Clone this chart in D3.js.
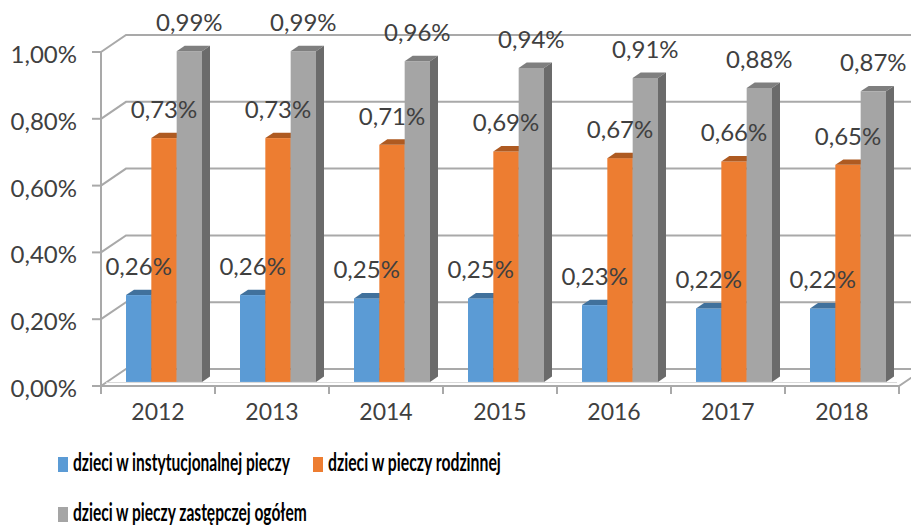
<!DOCTYPE html>
<html><head><meta charset="utf-8">
<script src="https://cdn.jsdelivr.net/npm/d3@7"></script>
<style>
html,body{margin:0;padding:0;background:#fff;}
svg{display:block;}
</style></head>
<body>
<svg id="chart" width="911" height="527"></svg>
<script>
// ---- data ----
const years = ["2012","2013","2014","2015","2016","2017","2018"];
const seriesNames = ["dzieci w instytucjonalnej pieczy","dzieci w pieczy rodzinnej","dzieci w pieczy zastępczej ogółem"];
const instytucjonalna = [0.26,0.26,0.25,0.25,0.23,0.22,0.22];
const rodzinna = [0.73,0.73,0.71,0.69,0.67,0.66,0.65];
const ogolem = [0.99,0.99,0.96,0.94,0.91,0.88,0.87];
const yTicks = [0,0.2,0.4,0.6,0.8,1.0];

const seriesValues = [instytucjonalna, rodzinna, ogolem];
const colors = [
  {front:"#5B9BD5", top:"#41719C", side:"#3B6890"},
  {front:"#ED7D31", top:"#AE5A21", side:"#A5551F"},
  {front:"#A5A5A5", top:"#7F7F7F", side:"#6B6B6B"}
];

const svg = d3.select("#chart");
const FONT = "Lato, 'Liberation Sans', sans-serif";
const DX = 25, DY = -17;            // depth vector of the 3D box
const proj = (x,y,f)=>[x+f*DX, y+f*DY];

const x = d3.scaleBand().domain(years).range([101, 899]).padding(0);
const xs = d3.scaleBand().domain(d3.range(3)).range([0, x.bandwidth()]).paddingInner(0).paddingOuter(0.75);
const y = d3.scaleLinear().domain([0,1]).range([386, 52]);
const loc = d3.formatLocale({decimal:",", thousands:" ", grouping:[3], currency:["","zł"]});
const fmt = v => loc.format(".2f")(v) + "%";

const gridColor = "#A9A9A9";
const g = svg.append("g");

// back wall / left wall gridlines
yTicks.forEach(t=>{
  const yy = y(t);
  const p1 = proj(x.range()[0], yy, 1);
  const p2 = proj(x.range()[1], yy, 1);
  g.append("path").attr("d", d3.line()([[x.range()[0], yy], p1, [p2[0]+20, p2[1]]]))
    .attr("fill","none").attr("stroke",gridColor).attr("stroke-width",2);
  g.append("line").attr("x1",x.range()[0]-9).attr("x2",x.range()[0]).attr("y1",yy).attr("y2",yy)
    .attr("stroke",gridColor).attr("stroke-width",2);
});
// floor
const y0 = y(0);
g.append("path").attr("d", d3.line()([[x.range()[0], y0],[x.range()[1], y0], proj(x.range()[1], y0, 1)]))
  .attr("fill","none").attr("stroke",gridColor).attr("stroke-width",2);
g.append("line").attr("x1",x.range()[0]+5).attr("x2",x.range()[1]-2).attr("y1",y0-3.5).attr("y2",y0-3.5)
  .attr("stroke","#D9D9D9").attr("stroke-width",1);
// vertical axis line
g.append("line").attr("x1",x.range()[0]).attr("x2",x.range()[0]).attr("y1",y(1)).attr("y2",y0+8)
  .attr("stroke",gridColor).attr("stroke-width",2);
// category ticks
years.concat(["end"]).forEach((yr,i)=>{
  const xx = i<years.length ? x(yr) : x.range()[1];
  g.append("line").attr("x1",xx).attr("x2",xx).attr("y1",y0).attr("y2",y0+8)
    .attr("stroke",gridColor).attr("stroke-width",2);
});

// y axis labels
yTicks.forEach(t=>{
  svg.append("text").attr("x",77).attr("y",y(t)+11).attr("text-anchor","end")
    .attr("font-family",FONT).attr("font-size",24).attr("fill","#404040").text(fmt(t));
});
// x axis labels
years.forEach(yr=>{
  svg.append("text").attr("x",x(yr)+x.bandwidth()/2).attr("y",420).attr("text-anchor","middle")
    .attr("font-family",FONT).attr("font-size",23).attr("fill","#404040").text(yr);
});

// bars
const F0 = 0.24, FD = 0.32;
const bw = xs.bandwidth();
const labels = [];
years.forEach((yr,ci)=>{
  seriesValues.forEach((vals,si)=>{
    const v = vals[ci];
    const xl = x(yr)+xs(si), xr = xl+bw;
    const yt = y(v), yb = y(0);
    const [fx1, fy1] = proj(xl, yt, F0);
    const [fx2, fyb] = proj(xr, yb, F0);
    const c = colors[si];
    g.append("rect").attr("x",fx1).attr("y",fy1).attr("width",bw).attr("height",fyb-fy1).attr("fill",c.front);
    const a = proj(xl,yt,F0), b = proj(xr,yt,F0), cc = proj(xr,yt,F0+FD), d = proj(xl,yt,F0+FD);
    g.append("path").attr("d", d3.line()([a,b,cc,d])+"Z").attr("fill",c.top);
    const e = proj(xr,yb,F0), f = proj(xr,yb,F0+FD);
    g.append("path").attr("d", d3.line()([b,cc,f,e])+"Z").attr("fill",c.side);
    labels.push({x:fx1+bw/2, y:fy1-20, t:fmt(v)});
  });
});
labels.forEach(l=>{
  svg.append("text").attr("x",l.x).attr("y",l.y).attr("text-anchor","middle")
    .attr("font-family",FONT).attr("font-size",24).attr("fill","#404040").text(l.t);
});

// legend
const legendItems = [
  {si:0, x:58, y:457, w:217},
  {si:1, x:313, y:457, w:173},
  {si:2, x:58, y:507, w:234}
];
legendItems.forEach(it=>{
  svg.append("rect").attr("x",it.x).attr("y",it.y).attr("width",10).attr("height",15).attr("fill",colors[it.si].front);
  const tg = svg.append("g").attr("transform",`translate(${it.x+15},${it.y+14})`);
  const t = tg.append("text").attr("x",0).attr("y",0).attr("font-family",FONT).attr("font-weight","bold")
    .attr("font-size",25).attr("fill","#000").text(seriesNames[it.si]);
  const natural = t.node().getComputedTextLength();
  t.attr("transform",`scale(${it.w/natural},1)`);
});
</script>
</body></html>
